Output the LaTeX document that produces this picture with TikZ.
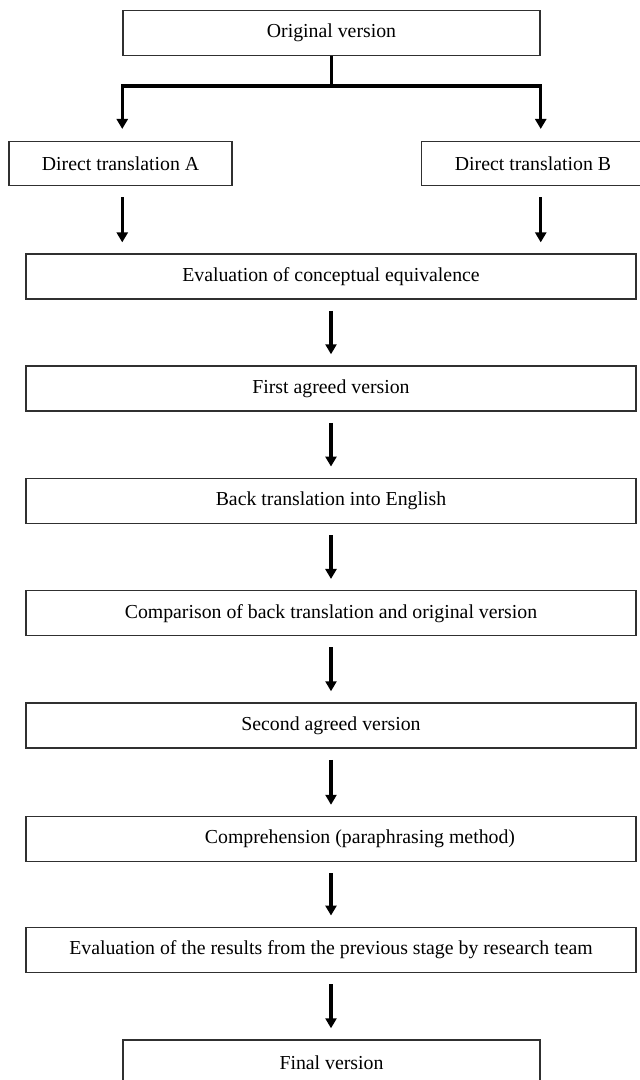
\documentclass[tikz,border=0pt]{standalone}
\usepackage{fontspec}
\setmainfont{Liberation Serif}
\usetikzlibrary{arrows.meta,calc}
\definecolor{edge}{HTML}{303030}
\begin{document}
\begin{tikzpicture}[x=1pt,y=-1pt,
  box/.style={draw=edge, line width=1.5pt, minimum height=45pt, inner sep=0pt,
    font=\fontsize{19.8pt}{24pt}\selectfont},
  widebox/.style={box, minimum width=610pt},
  flow/.style={line width=3.4pt, -{Triangle[width=11pt,length=10pt]},
    shorten <=11pt, shorten >=11pt},
  branch/.style={line width=3.3pt}]
\useasboundingbox (0,0) rectangle (640,1080);
\node[box, minimum width=417pt] (orig) at (331.5,32.8) {Original version};
\node[box, minimum width=223pt, minimum height=44pt] (A) at (120.5,163.7) {Direct translation A};
\node[box, minimum width=223pt, minimum height=44pt] (B) at (533,163.7) {Direct translation B};
\node[widebox] (e1) at (331,276.6) {Evaluation of conceptual equivalence};
\node[widebox] (e2) at (331,388.5) {First agreed version};
\node[widebox] (e3) at (331,500.8) {Back translation into English};
\node[widebox] (e4) at (331,613.2) {Comparison of back translation and original version};
\node[widebox] (e5) at (331,725.5) {Second agreed version};
\node[widebox] (e6) at (331,839) {\hspace*{58pt}Comprehension (paraphrasing method)};
\node[widebox] (e7) at (331,949.8) {Evaluation of the results from the previous stage by research team};
\node[box, minimum width=417pt] (fin) at (331.5,1062.5) {Final version};
\coordinate (split) at (331.5,86);
\draw[branch] (orig.south) -- (split);
\draw[flow, shorten <=0pt, shorten >=12pt] (split) -| (orig.west |- A.north);
\draw[flow, shorten <=0pt, shorten >=12pt] (split) -| (orig.east |- B.north);
\draw[flow] (orig.west |- A.south) -- (orig.west |- e1.north);
\draw[flow] (orig.east |- B.south) -- (orig.east |- e1.north);
\draw[flow] (e1) -- (e2);
\draw[flow] (e2) -- (e3);
\draw[flow] (e3) -- (e4);
\draw[flow] (e4) -- (e5);
\draw[flow] (e5) -- (e6);
\draw[flow] (e6) -- (e7);
\draw[flow] (e7.south) -- (e7.south |- fin.north);
\end{tikzpicture}
\end{document}
